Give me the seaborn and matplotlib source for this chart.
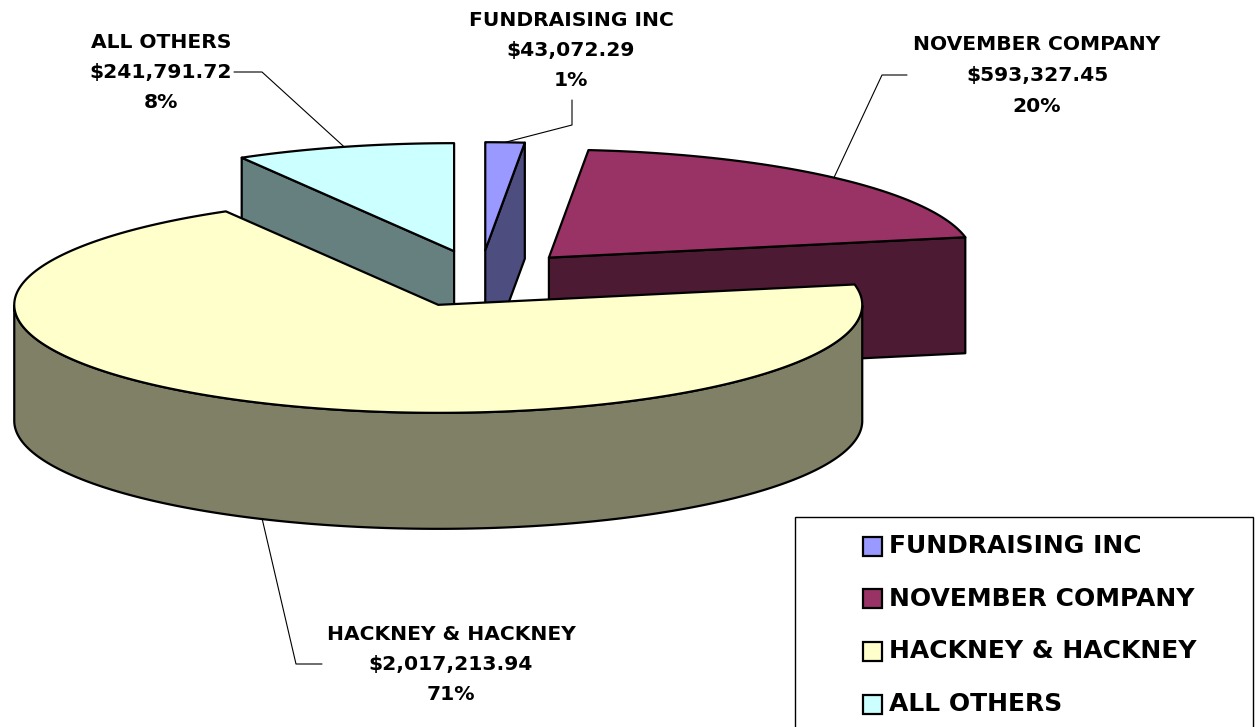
import numpy as np
import matplotlib
matplotlib.use('Agg')
import matplotlib.pyplot as plt
from matplotlib.patches import Polygon, Rectangle
import seaborn as sns

sns.set_theme(style='white')
plt.rcParams['font.family'] = ['DejaVu Sans']

# Data
names = ['FUNDRAISING INC', 'NOVEMBER COMPANY', 'HACKNEY & HACKNEY', 'ALL OTHERS']
amounts = [43072.29, 593327.45, 2017213.94, 241791.72]
amount_labels = ['$43,072.29', '$593,327.45', '$2,017,213.94', '$241,791.72']
pct_labels = ['1%', '20%', '71%', '8%']
colors = ['#9999FF', '#993366', '#FFFFCC', '#CCFFFF']

# 3D pie geometry (pixels)
CX, CY = 480.5, 278.8
RX, RY = 424, 108
DEPTH = 116
EX, EY = 0.24, 0.265

# label layout: (centre x, first line y), leader elbow, leader end
label_pos = [(571, 20), (1037, 45), (451, 634), (161, 42)]
elbows = [(572, 125), (882, 75), (296, 664), (262, 72)]
ends_ = [(572, 100), (907, 75), (322, 664), (234, 72)]

fig = plt.figure(figsize=(12.6, 7.27), dpi=100)
ax = fig.add_axes([0, 0, 1, 1])
ax.set_xlim(0, 1260)
ax.set_ylim(727, 0)
ax.axis('off')

fracs = np.array(amounts) / np.sum(amounts)
t_end = 90 - 360 * np.cumsum(fracs)
t_start = np.r_[90, t_end[:-1]]


def arc(c, ts, dz=0):
    r = np.radians(ts)
    return np.column_stack([c[0] + RX * np.cos(r), c[1] - RY * np.sin(r) + dz])


def darker(col):
    rgb = np.array(matplotlib.colors.to_rgb(col))
    return tuple(rgb * 0.5)


lw = 1.6
mids = (t_start + t_end) / 2
order = np.argsort(-np.sin(np.radians(mids)))
anchors = {}
for i in order:
    t1, t2, m = t_start[i], t_end[i], mids[i]
    mr = np.radians(m)
    c = np.array([CX + EX * RX * np.cos(mr), CY - EY * RY * np.sin(mr)])
    ts = np.linspace(t1, t2, 400)
    side = darker(colors[i])
    # radial faces
    for t, vis in [(t1, np.cos(np.radians(t1)) < -1e-6), (t2, np.cos(np.radians(t2)) > 1e-6)]:
        if vis:
            o = arc(c, [t])[0]
            poly = [c, o, o + [0, DEPTH], c + [0, DEPTH]]
            ax.add_patch(Polygon(poly, closed=True, fc=side, ec='black', lw=lw, joinstyle='round'))
    # outer wall, front half only
    front = np.sin(np.radians(ts)) <= 0
    idx = np.where(front)[0]
    if len(idx):
        runs = np.split(idx, np.where(np.diff(idx) != 1)[0] + 1)
        for run in runs:
            seg = ts[run]
            poly = np.vstack([arc(c, seg), arc(c, seg[::-1], DEPTH)])
            ax.add_patch(Polygon(poly, closed=True, fc=side, ec='black', lw=lw, joinstyle='round'))
    # top face
    top = np.vstack([c, arc(c, ts)])
    ax.add_patch(Polygon(top, closed=True, fc=colors[i], ec='black', lw=lw, joinstyle='round'))
    anchors[i] = arc(c, [m], DEPTH if np.sin(mr) < 0 else 0)[0]

# data labels with leader lines
for i in range(len(names)):
    a = anchors[i]
    ax.plot([a[0], elbows[i][0], ends_[i][0]], [a[1], elbows[i][1], ends_[i][1]],
            color='black', lw=0.8)
    x, y = label_pos[i]
    for k, s in enumerate([names[i], amount_labels[i], pct_labels[i]]):
        ax.text(x, y + 30.5 * k, s, ha='center', va='center', fontsize=14.6,
                fontweight='bold', color='black')

# legend box
ax.add_patch(Rectangle((795, 517), 458, 230, fc='white', ec='black', lw=1.0, clip_on=True))
for k, nm in enumerate(names):
    y = 546 + 52.7 * k
    ax.add_patch(Rectangle((863, y - 9.5), 19, 19, fc=colors[k], ec='black', lw=1.6))
    ax.text(889, y, nm, ha='left', va='center', fontsize=18, fontweight='bold', color='black')

fig.savefig('out.png', dpi=100, facecolor='white')
